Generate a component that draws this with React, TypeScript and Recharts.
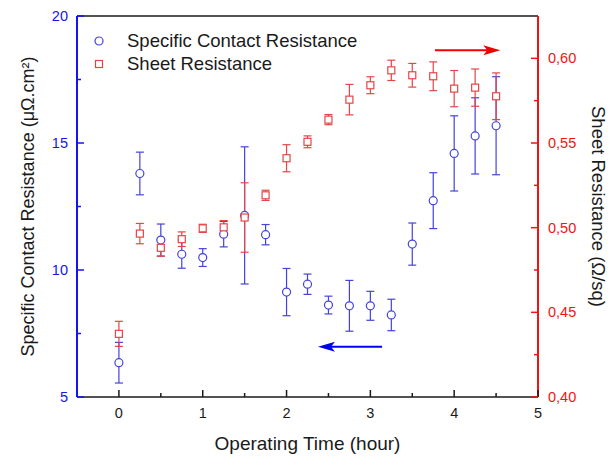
import { ComposedChart, Scatter, ErrorBar, XAxis, YAxis, ReferenceLine, Legend } from 'recharts'

const hours = [0, 0.25, 0.5, 0.75, 1, 1.25, 1.5, 1.75, 2, 2.25, 2.5, 2.75, 3, 3.25, 3.5, 3.75, 4, 4.25, 4.5]
const contactRes = [6.35, 13.8, 11.18, 10.62, 10.49, 11.41, 12.15, 11.39, 9.13, 9.44, 8.62, 8.59, 8.59, 8.23, 11.02, 12.73, 14.59, 15.28, 15.68]
const contactErr = [0.8, 0.84, 0.63, 0.55, 0.35, 0.5, 2.7, 0.4, 0.93, 0.4, 0.35, 1.0, 0.57, 0.62, 0.83, 1.1, 1.48, 1.5, 1.93]
const sheetRes = [0.4373, 0.4965, 0.4881, 0.4932, 0.4996, 0.5002, 0.506, 0.5191, 0.541, 0.5507, 0.5638, 0.5756, 0.5841, 0.5929, 0.59, 0.5894, 0.5821, 0.5827, 0.5776]
const sheetErr = [0.0074, 0.006, 0.005, 0.0043, 0.0024, 0.004, 0.0205, 0.003, 0.008, 0.0035, 0.003, 0.009, 0.005, 0.006, 0.007, 0.0085, 0.0107, 0.011, 0.0138]

const xTicks = [0, 0.5, 1, 1.5, 2, 2.5, 3, 3.5, 4, 4.5, 5]
const leftTicks = [5, 7.5, 10, 12.5, 15, 17.5, 20]
const rightTicks = [0.4, 0.425, 0.45, 0.475, 0.5, 0.525, 0.55, 0.575, 0.6]

const contactName = 'Specific Contact Resistance'
const sheetName = 'Sheet Resistance'

const AXIS_BLUE = '#1414f0'
const AXIS_RED = '#f01414'
const MARK_BLUE = '#4343dc'
const MARK_RED = '#e64545'
const INK = '#1a1a1a'

const contactData = hours.map((x, i) => ({ x, y: contactRes[i], err: contactErr[i] }))
const sheetData = hours.map((x, i) => ({ x, y: sheetRes[i], err: sheetErr[i] }))

const Circle = (p: any) => <circle cx={p.cx} cy={p.cy} r={4} fill="#fff" stroke={MARK_BLUE} strokeWidth={1.2} />
const Square = (p: any) => <rect x={p.cx - 3.5} y={p.cy - 3.5} width={7} height={7} fill="#fff" stroke={MARK_RED} strokeWidth={1.2} />

const LeftTick = (p: any) => {
  const major = p.index % 2 === 0
  return (
    <g>
      <line x1={p.x} y1={p.y} x2={p.x + (major ? 7 : 4)} y2={p.y} stroke={AXIS_BLUE} strokeWidth={1.5} />
      {major && (
        <text x={p.x - 9} y={p.y} dy="0.35em" textAnchor="end" fill={AXIS_BLUE} fontSize={14.5}>
          {p.payload.value}
        </text>
      )}
    </g>
  )
}

const RightTick = (p: any) => {
  const major = p.index % 2 === 0
  return (
    <g>
      <line x1={p.x} y1={p.y} x2={p.x - (major ? 7 : 4)} y2={p.y} stroke={AXIS_RED} strokeWidth={1.5} />
      {major && (
        <text x={p.x + 10} y={p.y} dy="0.35em" textAnchor="start" fill={AXIS_RED} fontSize={14.5}>
          {p.payload.value.toFixed(2).replace('.', ',')}
        </text>
      )}
    </g>
  )
}

const BottomTick = (p: any) => {
  const major = p.index % 2 === 0
  return (
    <g>
      <line x1={p.x} y1={p.y} x2={p.x} y2={p.y - (major ? 7 : 4)} stroke={INK} strokeWidth={1.5} />
      {major && (
        <text x={p.x} y={p.y + 21} textAnchor="middle" fill={INK} fontSize={14.5}>
          {p.payload.value}
        </text>
      )}
    </g>
  )
}

const TopTick = (p: any) => {
  const major = p.index % 2 === 0
  return <line x1={p.x} y1={p.y} x2={p.x} y2={p.y + (major ? 7 : 4)} stroke={INK} strokeWidth={1.5} />
}

const arrow = (color: string) => (p: any) => {
  const dir = Math.sign(p.x2 - p.x1)
  const y = p.y2
  return (
    <g>
      <line x1={p.x1} y1={y} x2={p.x2 - dir * 10} y2={y} stroke={color} strokeWidth={2} />
      <path d={`M${p.x2},${y} L${p.x2 - dir * 17},${y - 5} L${p.x2 - dir * 13},${y} L${p.x2 - dir * 17},${y + 5} Z`} fill={color} />
    </g>
  )
}

const renderLegend = () => (
  <div style={{ fontSize: 18.5, color: INK, lineHeight: '23px' }}>
    <div style={{ display: 'flex', alignItems: 'center' }}>
      <svg width={16} height={16}><circle cx={8} cy={8} r={4} fill="#fff" stroke={MARK_BLUE} strokeWidth={1.2} /></svg>
      <span style={{ marginLeft: 20 }}>{contactName}</span>
    </div>
    <div style={{ display: 'flex', alignItems: 'center' }}>
      <svg width={16} height={16}><rect x={4.5} y={4.5} width={7} height={7} fill="#fff" stroke={MARK_RED} strokeWidth={1.2} /></svg>
      <span style={{ marginLeft: 20 }}>{sheetName}</span>
    </div>
  </div>
)

export default function App() {
  return (
    <div style={{ position: 'absolute', left: 0, top: 0, width: 611, height: 458, background: '#fff', fontFamily: '"Liberation Sans", Arial, sans-serif' }}>
      <ComposedChart width={611} height={458} margin={{ top: 0, right: 0, bottom: 0, left: 0 }}>
        <XAxis
          dataKey="x" type="number" domain={[-0.5, 5]} ticks={xTicks} height={61}
          axisLine={{ stroke: INK, strokeWidth: 1.5 }} tickLine={false} tickSize={0} tickMargin={0}
          tick={BottomTick} interval={0}
          label={{
            content: (lp: any) => (
              <text x={lp.viewBox.x + lp.viewBox.width / 2} y={450} textAnchor="middle" fill={INK} fontSize={19}>
                Operating Time (hour)
              </text>
            ),
          }}
        />
        <XAxis
          xAxisId="top" orientation="top" type="number" domain={[-0.5, 5]} ticks={xTicks} height={16}
          axisLine={{ stroke: INK, strokeWidth: 1.5 }} tickLine={false} tickSize={0} tickMargin={0}
          tick={TopTick} interval={0}
        />
        <YAxis
          yAxisId="left" type="number" domain={[5, 20]} ticks={leftTicks} width={77}
          axisLine={{ stroke: AXIS_BLUE, strokeWidth: 2 }} tickLine={false} tickSize={0} tickMargin={0}
          tick={LeftTick} interval={0}
          label={{
            content: (lp: any) => {
              const cy = lp.viewBox.y + lp.viewBox.height / 2
              return (
                <text x={28} y={cy} textAnchor="middle" dy="0.35em" fill={INK} fontSize={18} transform={`rotate(-90 28 ${cy})`}>
                  Specific Contact Resistance (μΩ.cm²)
                </text>
              )
            },
          }}
        />
        <YAxis
          yAxisId="right" orientation="right" type="number" domain={[0.4, 0.625]} ticks={rightTicks} width={73}
          axisLine={{ stroke: AXIS_RED, strokeWidth: 2 }} tickLine={false} tickSize={0} tickMargin={0}
          tick={RightTick} interval={0}
          label={{
            content: (lp: any) => {
              const cy = lp.viewBox.y + lp.viewBox.height / 2
              const cx = lp.viewBox.x + 60
              return (
                <text x={cx} y={cy} textAnchor="middle" dy="0.35em" fill={INK} fontSize={18.5} transform={`rotate(90 ${cx} ${cy})`}>
                  Sheet Resistance (Ω/sq)
                </text>
              )
            },
          }}
        />
        <Legend
          layout="vertical" align="center" verticalAlign="middle"
          wrapperStyle={{ left: 91, top: 29, width: 'auto' }}
          content={renderLegend}
        />
        <Scatter name={contactName} yAxisId="left" data={contactData} dataKey="y" shape={Circle} isAnimationActive={false}>
          <ErrorBar dataKey="err" direction="y" width={4} stroke={MARK_BLUE} strokeWidth={1.2} isAnimationActive={false} />
        </Scatter>
        <Scatter name={sheetName} yAxisId="right" data={sheetData} dataKey="y" shape={Square} isAnimationActive={false}>
          <ErrorBar dataKey="err" direction="y" width={4} stroke={MARK_RED} strokeWidth={1.2} isAnimationActive={false} />
        </Scatter>
        <ReferenceLine yAxisId="right" segment={[{ x: 3.77, y: 0.6047 }, { x: 4.55, y: 0.6047 }]} shape={arrow('#f00000')} />
        <ReferenceLine yAxisId="left" segment={[{ x: 3.14, y: 6.98 }, { x: 2.375, y: 6.98 }]} shape={arrow('#0000f0')} />
      </ComposedChart>
    </div>
  )
}
